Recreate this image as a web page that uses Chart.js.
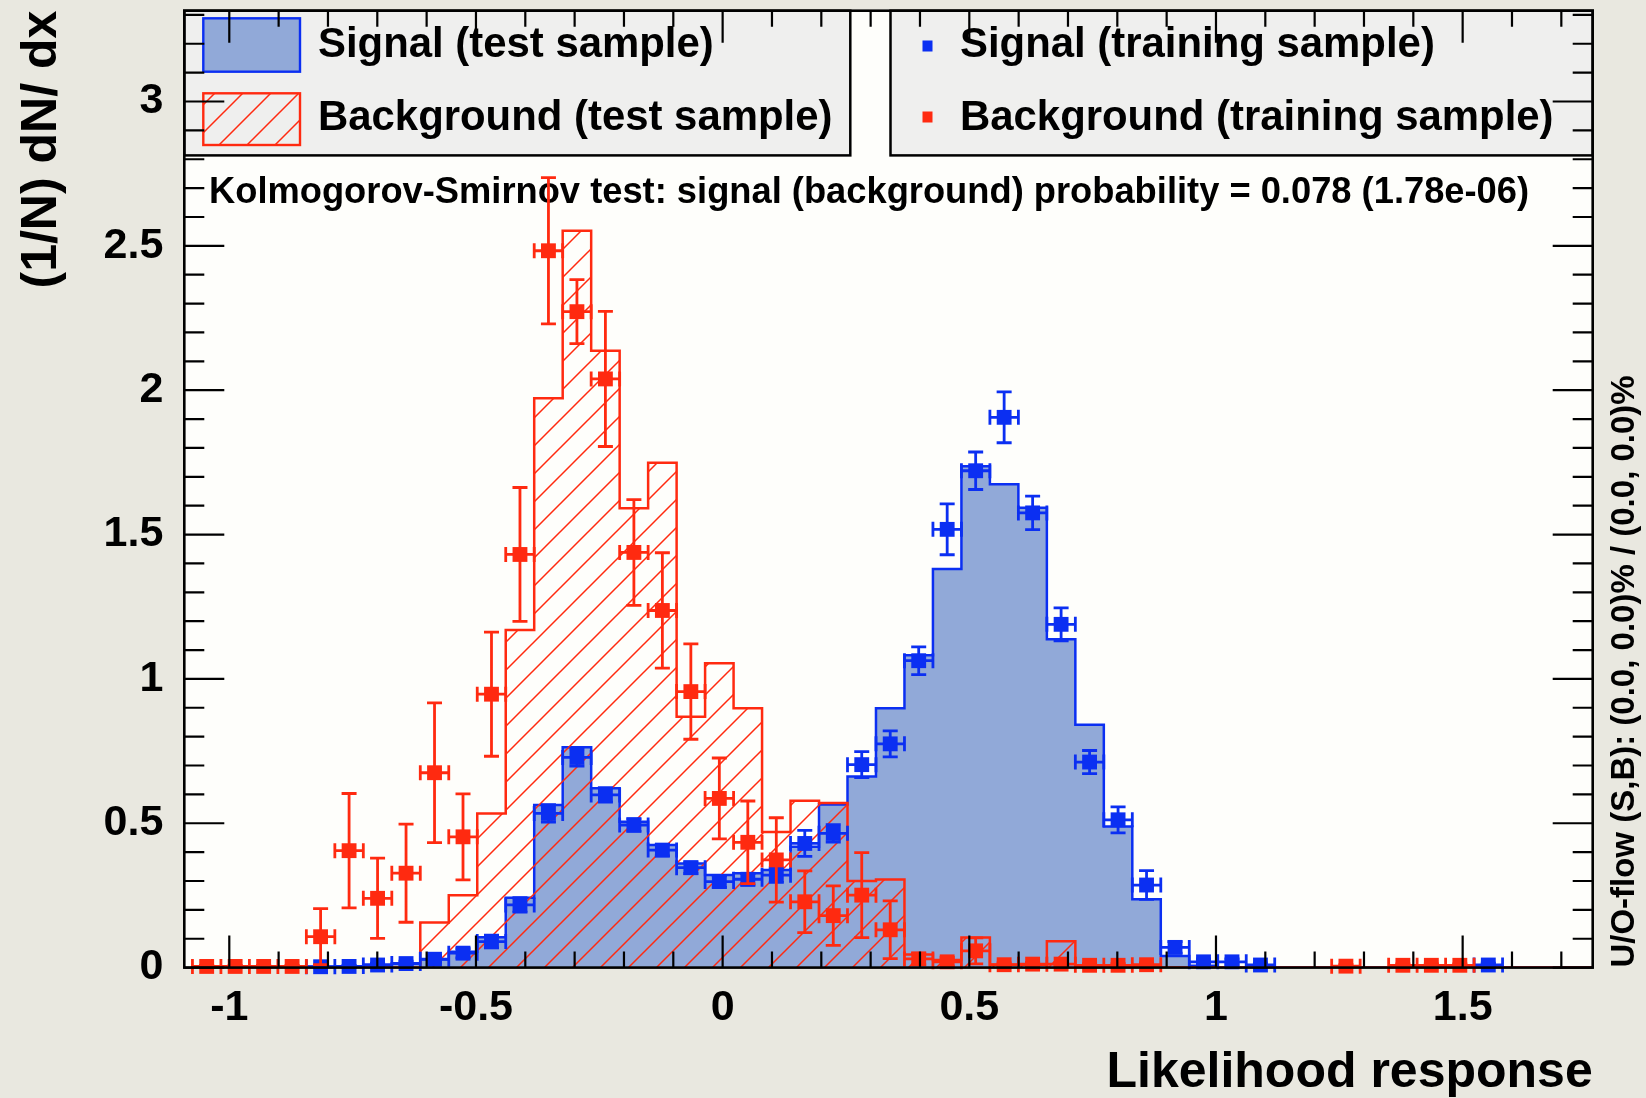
<!DOCTYPE html>
<html>
<head>
<meta charset="utf-8">
<script src="https://cdn.jsdelivr.net/npm/chart.js@4.4.1/dist/chart.umd.min.js"></script>
<style>
html,body{margin:0;padding:0;background:#e9e8e0;}
canvas{display:block;}
</style>
</head>
<body>
<canvas id="c" width="1646" height="1098"></canvas>
<script>
// ---------------- data ----------------
const binLow = -1.0747;      // low edge of first bin
const binWidth = 0.05773;    // bin width
const xMin = -1.0912, xMax = 1.7636;
const yMin = 0, yMax = 3.3145;

const xTickValues = [-1, -0.5, 0, 0.5, 1, 1.5];
const xTickLabels = ['-1', '-0.5', '0', '0.5', '1', '1.5'];
const yTickValues = [0, 0.5, 1, 1.5, 2, 2.5, 3];
const yTickLabels = ['0', '0.5', '1', '1.5', '2', '2.5', '3'];

const signalTest = [0, 0, 0, 0, 0.003, 0.005, 0.01, 0.015, 0.029, 0.055,
  0.105, 0.242, 0.563, 0.763, 0.621, 0.505, 0.425, 0.361, 0.321, 0.327,
  0.338, 0.419, 0.565, 0.662, 0.898, 1.082, 1.381, 1.737, 1.674, 1.593,
  1.137, 0.841, 0.489, 0.237, 0.04, 0.006, 0, 0, 0, 0,
  0, 0, 0, 0, 0, 0, 0, 0, 0, 0];

const backgroundTest = [0, 0, 0, 0, 0, 0, 0, 0, 0.156, 0.251,
  0.534, 1.169, 1.972, 2.552, 2.137, 1.591, 1.749, 0.869, 1.054, 0.898,
  0.47, 0.578, 0.57, 0.3, 0.305, 0.045, 0.026, 0.104, 0.01, 0.01,
  0.091, 0.005, 0.005, 0.003, 0, 0, 0, 0, 0, 0,
  0, 0, 0, 0, 0, 0, 0, 0, 0, 0];

const signalTrain = [null, null, null, null, 0.003, 0.004, 0.009, 0.014, 0.029, 0.05,
  0.09, 0.217, 0.534, 0.728, 0.598, 0.494, 0.407, 0.346, 0.298, 0.306,
  0.32, 0.43, 0.465, 0.703, 0.775, 1.063, 1.518, 1.721, 1.906, 1.575,
  1.189, 0.712, 0.512, 0.286, 0.07, 0.02, 0.02, 0.009, null, null,
  null, null, null, null, null, 0.009, null, null, null, null];

const signalTrainErr = [0, 0, 0, 0, 0.003, 0.004, 0.006, 0.008, 0.012, 0.016,
  0.022, 0.025, 0.03, 0.03, 0.025, 0.022, 0.02, 0.02, 0.02, 0.02,
  0.025, 0.045, 0.03, 0.045, 0.045, 0.048, 0.088, 0.065, 0.088, 0.058,
  0.057, 0.04, 0.045, 0.05, 0.02, 0.01, 0.01, 0.006, 0, 0,
  0, 0, 0, 0, 0, 0.006, 0, 0, 0, 0];

const backgroundTrain = [0.004, 0.004, 0.004, 0.004, 0.107, 0.405, 0.24, 0.327, 0.675, 0.453,
  0.947, 1.431, 2.483, 2.272, 2.039, 1.438, 1.237, 0.956, 0.586, 0.434,
  0.373, 0.228, 0.18, 0.251, 0.131, 0.03, 0.02, 0.058, 0.01, 0.012,
  0.012, 0.008, 0.008, 0.01, null, null, null, null, null, null,
  0.005, null, 0.008, 0.008, 0.008, null, null, null, null, null];

const backgroundTrainErr = [0.004, 0.004, 0.004, 0.004, 0.097, 0.198, 0.139, 0.17, 0.242, 0.149,
  0.215, 0.232, 0.253, 0.111, 0.234, 0.183, 0.2, 0.165, 0.14, 0.143,
  0.146, 0.107, 0.103, 0.147, 0.1, 0.02, 0.015, 0.045, 0.006, 0.006,
  0.006, 0.006, 0.006, 0.006, 0, 0, 0, 0, 0, 0,
  0.005, 0, 0.005, 0.005, 0.005, 0, 0, 0, 0, 0];

const legendLabels = ['Signal (test sample)', 'Background (test sample)',
  'Signal (training sample)', 'Background (training sample)'];
const ksText = 'Kolmogorov-Smirnov test: signal (background) probability = 0.078 (1.78e-06)';
const xTitle = 'Likelihood response';
const yTitle = '(1/N) dN/ dx';
const rightTitle = 'U/O-flow (S,B): (0.0, 0.0)% / (0.0, 0.0)%';

// ---------------- styles ----------------
const FONT = "'Liberation Sans', Arial, Helvetica, sans-serif";
const sigFill = '#91a9d8';
const sigLine = '#0b2ff2';
const bkgLine = '#ff2a10';
const pageBg = '#e9e8e0';
const plotBg = '#fefefb';
const legendBg = '#efefee';

const canvas = document.getElementById('c');
const ctx0 = canvas.getContext('2d');

function makeHatch(color, s, lw) {
  const t = document.createElement('canvas');
  t.width = s; t.height = s;
  const g = t.getContext('2d');
  g.strokeStyle = color; g.lineWidth = lw;
  g.beginPath();
  for (let n = -1; n <= 1; n++) {
    g.moveTo(-2, s * (n + 1) + 2);
    g.lineTo(s + 2, s * n - 2);
  }
  g.stroke();
  return ctx0.createPattern(t, 'repeat');
}
const hatch = makeHatch(bkgLine, 28, 1.5);

function histPoints(values) {
  const pts = values.map((v, k) => ({x: binLow + k * binWidth, y: v}));
  pts.push({x: binLow + values.length * binWidth, y: 0});
  return pts;
}
function trainPoints(values, errs) {
  const pts = [];
  values.forEach((v, k) => {
    if (v !== null) pts.push({x: binLow + (k + 0.5) * binWidth, y: v, e: errs[k]});
  });
  return pts;
}

// ---------------- plugins ----------------
const bgPlugin = {
  id: 'bg',
  beforeDraw(chart) {
    const {ctx, chartArea: a} = chart;
    ctx.save();
    ctx.fillStyle = pageBg;
    ctx.fillRect(0, 0, chart.width, chart.height);
    ctx.fillStyle = plotBg;
    ctx.fillRect(a.left, a.top, a.right - a.left, a.bottom - a.top);
    ctx.restore();
  },
  beforeDatasetsDraw(chart) {
    const {ctx} = chart;
    ctx.save();
    ctx.fillStyle = '#000';
    ctx.font = 'bold 36.3px ' + FONT;
    ctx.textBaseline = 'alphabetic';
    ctx.textAlign = 'left';
    ctx.fillText(ksText, 209, 203);
    ctx.restore();
  }
};

const errPlugin = {
  id: 'errbars',
  beforeDatasetDraw(chart, args) {
    const ds = chart.data.datasets[args.index];
    if (!ds.errorBars) return;
    const {ctx, scales: {x, y}} = chart;
    ctx.save();
    ctx.strokeStyle = ds.backgroundColor;
    ctx.lineWidth = 2.8;
    const cap = 7.5;
    ctx.beginPath();
    ds.data.forEach(p => {
      const px = x.getPixelForValue(p.x);
      const py = y.getPixelForValue(p.y);
      const xl = x.getPixelForValue(p.x - binWidth / 2);
      const xr = x.getPixelForValue(p.x + binWidth / 2);
      ctx.moveTo(xl, py); ctx.lineTo(xr, py);
      ctx.moveTo(xl, py - cap); ctx.lineTo(xl, py + cap);
      ctx.moveTo(xr, py - cap); ctx.lineTo(xr, py + cap);
      if (p.e > 0) {
        const yt = y.getPixelForValue(p.y + p.e);
        const yb = y.getPixelForValue(p.y - p.e);
        ctx.moveTo(px, yt); ctx.lineTo(px, yb);
        ctx.moveTo(px - cap, yt); ctx.lineTo(px + cap, yt);
        ctx.moveTo(px - cap, yb); ctx.lineTo(px + cap, yb);
      }
    });
    ctx.stroke();
    ctx.restore();
  }
};

const decoPlugin = {
  id: 'deco',
  afterDatasetsDraw(chart) {
    const {ctx, chartArea: a, scales: {x, y}} = chart;
    ctx.save();
    // ---- legends ----
    const lgTop = a.top, lgBot = 155.4;
    ctx.fillStyle = legendBg;
    ctx.fillRect(a.left, lgTop, 850.3 - a.left, lgBot - lgTop);
    ctx.fillRect(890.5, lgTop, a.right - 890.5, lgBot - lgTop);
    ctx.strokeStyle = '#000'; ctx.lineWidth = 2.5;
    ctx.strokeRect(a.left, lgTop, 850.3 - a.left, lgBot - lgTop);
    ctx.strokeRect(890.5, lgTop, a.right - 890.5, lgBot - lgTop);
    // signal sample box
    ctx.fillStyle = sigFill;
    ctx.fillRect(203.3, 18.3, 96.7, 53.4);
    ctx.strokeStyle = sigLine; ctx.lineWidth = 2.4;
    ctx.strokeRect(203.3, 18.3, 96.7, 53.4);
    // background sample box
    ctx.fillStyle = hatch;
    ctx.fillRect(203.3, 93.3, 96.7, 51.7);
    ctx.strokeStyle = bkgLine;
    ctx.strokeRect(203.3, 93.3, 96.7, 51.7);
    // markers
    ctx.fillStyle = sigLine;
    ctx.fillRect(922.5, 40.5, 10, 11);
    ctx.fillStyle = bkgLine;
    ctx.fillRect(922.5, 111.5, 10, 11);
    // texts
    ctx.fillStyle = '#000';
    ctx.font = 'bold 41.9px ' + FONT;
    ctx.textAlign = 'left';
    ctx.textBaseline = 'alphabetic';
    ctx.fillText(legendLabels[0], 318, 56.5);
    ctx.fillText(legendLabels[1], 318, 130);
    ctx.fillText(legendLabels[2], 960, 56.5);
    ctx.fillText(legendLabels[3], 960, 130);

    // ---- frame and inward ticks ----
    ctx.strokeStyle = '#000';
    ctx.lineWidth = 2.2;
    ctx.beginPath();
    for (let i = Math.ceil(xMin * 10); i <= Math.floor(xMax * 10); i++) {
      const px = x.getPixelForValue(i / 10);
      const len = (i % 5 === 0) ? 32 : 16;
      ctx.moveTo(px, a.bottom); ctx.lineTo(px, a.bottom - len);
      ctx.moveTo(px, a.top); ctx.lineTo(px, a.top + len);
    }
    for (let i = Math.ceil(yMin * 10); i <= Math.floor(yMax * 10); i++) {
      const py = y.getPixelForValue(i / 10);
      const len = (i % 5 === 0) ? 40 : 20;
      ctx.moveTo(a.left, py); ctx.lineTo(a.left + len, py);
      ctx.moveTo(a.right, py); ctx.lineTo(a.right - len, py);
    }
    ctx.stroke();
    ctx.lineWidth = 2.6;
    ctx.strokeRect(a.left, a.top, a.right - a.left, a.bottom - a.top);

    // ---- right-hand title ----
    ctx.fillStyle = '#000';
    ctx.font = 'bold 33px ' + FONT;
    ctx.translate(1625, a.bottom);
    ctx.rotate(-Math.PI / 2);
    ctx.textAlign = 'left';
    ctx.textBaseline = 'middle';
    ctx.fillText(rightTitle, 0, 0);
    ctx.restore();
  }
};

// ---------------- chart ----------------
const tickFont = {family: FONT, weight: 'bold', size: 43, lineHeight: 1.2};

new Chart(canvas, {
  type: 'scatter',
  data: {
    datasets: [
      {
        type: 'line', label: legendLabels[0], data: histPoints(signalTest),
        stepped: 'before', borderColor: sigLine, borderWidth: 2.5,
        backgroundColor: sigFill, fill: 'origin', pointRadius: 0, order: 4
      },
      {
        type: 'line', label: legendLabels[1], data: histPoints(backgroundTest),
        stepped: 'before', borderColor: bkgLine, borderWidth: 2.5,
        backgroundColor: hatch, fill: 'origin', pointRadius: 0, order: 3
      },
      {
        type: 'scatter', label: legendLabels[2], data: trainPoints(signalTrain, signalTrainErr),
        pointStyle: 'rect', pointRadius: 10.5, backgroundColor: sigLine, borderWidth: 0,
        errorBars: true, clip: false, order: 2
      },
      {
        type: 'scatter', label: legendLabels[3], data: trainPoints(backgroundTrain, backgroundTrainErr),
        pointStyle: 'rect', pointRadius: 10.5, backgroundColor: bkgLine, borderWidth: 0,
        errorBars: true, clip: false, order: 1
      }
    ]
  },
  options: {
    responsive: false,
    devicePixelRatio: 1,
    animation: false,
    events: [],
    layout: {padding: {left: 0, top: 10.7, right: 53.3, bottom: 0}},
    plugins: {legend: {display: false}, tooltip: {enabled: false}},
    scales: {
      x: {
        type: 'linear', min: xMin, max: xMax, bounds: 'data', position: 'bottom',
        grid: {display: false}, border: {display: false},
        afterFit: s => { s.height = 1098 - 967.6; s.paddingLeft = 0; s.paddingRight = 0; },
        afterBuildTicks: s => { s.ticks = xTickValues.map(v => ({value: v})); },
        ticks: {autoSkip: false, maxRotation: 0, minRotation: 0, padding: 7, color: '#000',
          font: tickFont, callback: (v, i) => xTickLabels[i]},
        title: {display: true, text: xTitle, align: 'end', color: '#000',
          font: {family: FONT, weight: 'bold', size: 50, lineHeight: 1}, padding: {top: 0, bottom: 0}}
      },
      y: {
        type: 'linear', min: yMin, max: yMax, bounds: 'data', position: 'left',
        grid: {display: false}, border: {display: false},
        afterFit: s => { s.width = 184.3; s.paddingTop = 0; s.paddingBottom = 0; },
        afterBuildTicks: s => { s.ticks = yTickValues.map(v => ({value: v})); },
        ticks: {autoSkip: false, padding: 13, color: '#000', font: tickFont,
          callback: (v, i) => yTickLabels[i]},
        title: {display: true, text: yTitle, align: 'end', color: '#000',
          font: {family: FONT, weight: 'bold', size: 50, lineHeight: 1.2}, padding: {top: 12, bottom: 0}}
      }
    }
  },
  plugins: [bgPlugin, errPlugin, decoPlugin]
});
</script>
</body>
</html>
